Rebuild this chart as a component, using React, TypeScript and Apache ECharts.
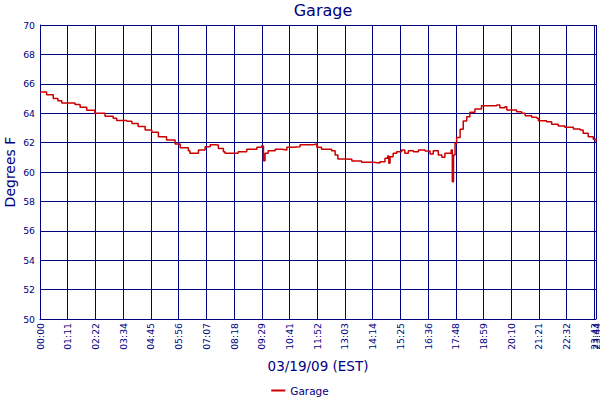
import React, { useEffect, useRef } from 'react';
import * as echarts from 'echarts';

// minutes since 00:00 on 03/19/09
const sampleMinutes = [
    0, 17, 34, 46, 56, 90, 103, 120, 141, 167, 188, 197, 223, 236, 252, 270, 287, 304, 325, 347, 360,
    381, 385, 398, 407, 424, 437, 449, 458, 471, 475, 496, 509, 531, 557, 569, 574, 578, 586, 604,
    621, 634, 651, 668, 702, 711, 723, 740,
    749, 758, 765, 783, 801, 826, 856, 873, 886, 893, 896, 899, 907, 916, 929, 937, 946, 959, 972,
    989, 1002, 1010, 1023, 1032, 1040, 1056, 1059, 1062, 1066, 1070, 1079,
    1087, 1096, 1104, 1117, 1134, 1156, 1173, 1181, 1194, 1199, 1211, 1224, 1237, 1246, 1263, 1276,
    1280, 1301, 1314, 1331, 1348, 1370, 1387, 1395, 1408, 1421, 1428,
];

const garageTemps = [
    65.45, 65.25, 65.0, 64.85, 64.7, 64.6, 64.4, 64.2, 64.0, 63.8, 63.65, 63.5, 63.45, 63.3, 63.1, 62.85, 62.7, 62.4, 62.18, 61.9, 61.65,
    61.45, 61.27, 61.27, 61.5, 61.72, 61.86, 61.84, 61.6, 61.38, 61.27, 61.27, 61.38, 61.54, 61.68, 61.77, 60.77, 61.27, 61.45, 61.54,
    61.5, 61.68, 61.72, 61.86, 61.9, 61.68, 61.54, 61.54,
    61.45, 61.16, 60.88, 60.86, 60.75, 60.66, 60.62, 60.7, 60.93, 61.09, 60.59, 61.04, 61.27, 61.38, 61.5, 61.27, 61.45, 61.38, 61.5,
    61.43, 61.22, 61.45, 61.16, 61.0, 61.27, 61.5, 59.34, 61.16, 61.95, 62.35, 62.9,
    63.47, 63.76, 64.06, 64.29, 64.5, 64.51, 64.56, 64.37, 64.44, 64.22, 64.22, 64.1, 64.0, 63.83, 63.72, 63.65,
    63.49, 63.42, 63.24, 63.13, 63.04, 62.93, 62.86, 62.63, 62.4, 62.22, 62.05,
];

const timeTickLabels = [
    '00:00', '01:11', '02:22', '03:34', '04:45', '05:56', '07:07', '08:18', '09:29', '10:41', '11:52',
    '13:03', '14:14', '15:25', '16:36', '17:48', '18:59', '20:10', '21:21', '22:32', '23:43', '23:44',
];

const NAVY = '#000080';
const FONT = "'DejaVu Sans', Verdana, sans-serif";
// the last regular tick sits almost on top of the end tick; draw it on its own axis
const CROWDED_TICK = 20;

const timeAxis = (secondary: boolean) => ({
    type: 'value',
    position: 'bottom',
    min: 0,
    max: 1428,
    interval: 71.2,
    name: secondary ? '' : '03/19/09 (EST)',
    nameLocation: 'middle',
    nameGap: 40,
    nameMoveOverlap: false,
    nameTextStyle: { color: NAVY, fontSize: 13.5, fontFamily: FONT },
    axisLine: { show: !secondary, onZero: false, lineStyle: { color: NAVY, width: 1 } },
    axisTick: { show: false },
    axisLabel: {
        rotate: 90,
        margin: 4,
        color: NAVY,
        fontSize: 9.3,
        fontFamily: FONT,
        showMinLabel: !secondary,
        showMaxLabel: !secondary,
        hideOverlap: false,
        formatter: (_v: number, i: number) => {
            if (secondary) return i === CROWDED_TICK ? timeTickLabels[i] : '';
            return i === CROWDED_TICK ? '' : timeTickLabels[i] ?? '';
        },
    },
    splitLine: { show: !secondary, lineStyle: { color: NAVY, width: 1 } },
});

const GarageChart: React.FC = () => {
    const chartRef = useRef<HTMLDivElement>(null);

    useEffect(() => {
        if (!chartRef.current) return;
        const chart = echarts.init(chartRef.current, undefined, { renderer: 'svg' });

        const option: any = {
            animation: false,
            backgroundColor: '#fff',
            textStyle: { fontFamily: FONT },
            title: {
                text: 'Garage',
                left: 318,
                textAlign: 'center',
                top: -3,
                textStyle: { color: NAVY, fontSize: 16, fontWeight: 'normal', fontFamily: FONT },
            },
            grid: { left: 40, right: 4, top: 25, bottom: 81, containLabel: false, outerBoundsMode: 'none' },
            legend: {
                left: 'center',
                top: 380,
                icon: 'rect',
                itemWidth: 14,
                itemHeight: 2,
                itemGap: 4,
                textStyle: { color: NAVY, fontSize: 10.5, fontFamily: FONT },
            },
            // y axis title, set as a rotated text so it stays clear of the page edge
            graphic: [
                {
                    type: 'text',
                    x: 10,
                    y: 172,
                    rotation: Math.PI / 2,
                    style: {
                        text: 'Degrees F',
                        fill: NAVY,
                        fontSize: 14,
                        fontFamily: FONT,
                        align: 'center',
                        verticalAlign: 'middle',
                    },
                },
            ],
            xAxis: [timeAxis(false), timeAxis(true)],
            yAxis: {
                type: 'value',
                min: 50,
                max: 70,
                interval: 2,
                axisLine: { show: true, lineStyle: { color: NAVY, width: 1 } },
                axisTick: { show: false },
                axisLabel: { color: NAVY, fontSize: 9.3, margin: 5, fontFamily: FONT },
                splitLine: { show: true, lineStyle: { color: NAVY, width: 1 } },
            },
            series: [
                {
                    name: 'Garage',
                    type: 'line',
                    step: 'end',
                    symbol: 'none',
                    color: '#CC0000',
                    lineStyle: { color: '#CC0000', width: 1.5 },
                    data: sampleMinutes.map((m, i) => [m, garageTemps[i]]),
                },
            ],
        };

        chart.setOption(option);

        const handleResize = () => chart.resize();
        window.addEventListener('resize', handleResize);
        return () => {
            window.removeEventListener('resize', handleResize);
            chart.dispose();
        };
    }, []);

    return (
        <div
            ref={chartRef}
            style={{ position: 'absolute', left: 0, top: 0, width: 600, height: 400 }}
        />
    );
};

export default function App() {
    return <GarageChart />;
}
